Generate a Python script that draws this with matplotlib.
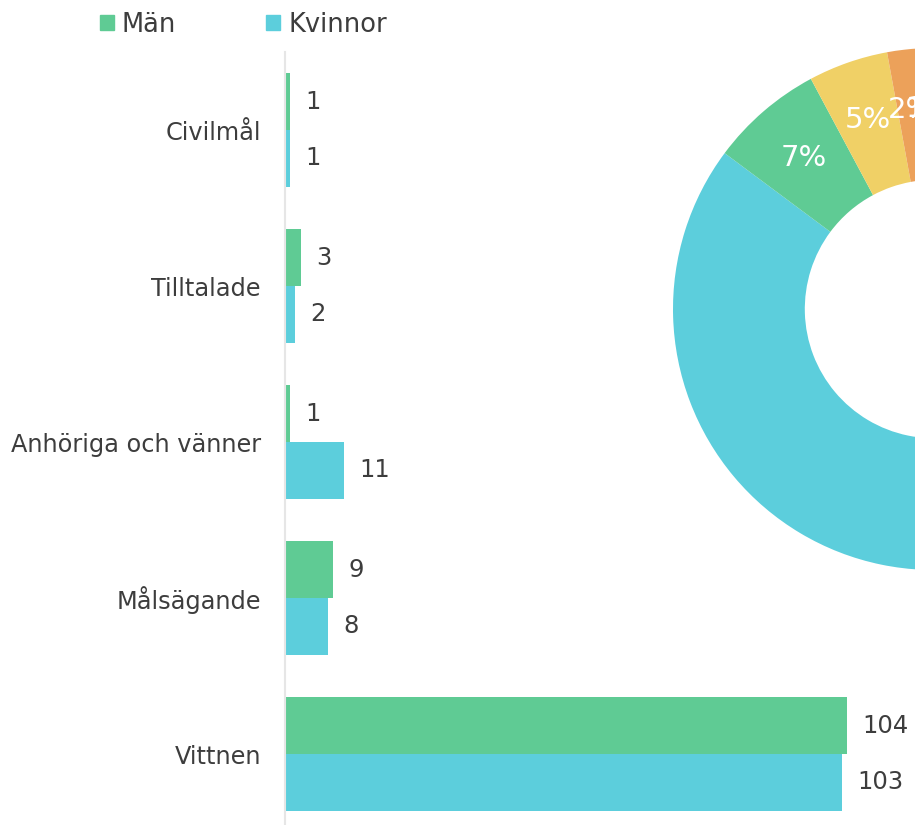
import matplotlib.pyplot as plt
from matplotlib.patches import Patch

# data
kategorier = ["Civilmål", "Tilltalade", "Anhöriga och vänner", "Målsägande", "Vittnen"]
man = [1, 3, 1, 9, 104]
kvinnor = [1, 2, 11, 8, 103]

# donut: totals per category, drawn clockwise from the top
donut_namn = ["Vittnen", "Målsägande", "Anhöriga och vänner", "Tilltalade", "Civilmål"]
donut_varden = [207, 17, 12, 5, 2]

gron = "#5fcb94"
cyan = "#5ccedc"
gul = "#f0d066"
orange = "#eca15a"
rod = "#e5645b"
textfarg = "#3d3d3d"

fig = plt.figure(figsize=(9.15, 8.25), dpi=100)

# bar chart
ax = fig.add_axes([284.5 / 915, -7 / 825, 630.5 / 915, 780 / 825])
pos = list(range(len(kategorier)))
h = 0.3625
b1 = ax.barh([p - h / 2 for p in pos], man, height=h, color=gron, label="Män")
b2 = ax.barh([p + h / 2 for p in pos], kvinnor, height=h, color=cyan, label="Kvinnor")
ax.bar_label(b1, padding=11, fontsize=17.5, color=textfarg)
ax.bar_label(b2, padding=11, fontsize=17.5, color=textfarg)
ax.set_xlim(0, 630.5 / 5.41)
ax.set_ylim(len(kategorier) - 0.5, -0.5)
ax.set_yticks(pos)
ax.set_yticklabels(kategorier, fontsize=17.3, color=textfarg)
ax.tick_params(axis="y", length=0, pad=17)
ax.set_xticks([])
for s in ["top", "right", "bottom"]:
    ax.spines[s].set_visible(False)
ax.spines["left"].set_color("#e6e6e6")
ax.spines["left"].set_linewidth(1.5)
ax.patch.set_alpha(0)

# donut, mostly outside the figure to the right
pax = fig.add_axes([673 / 915, 255 / 825, 522 / 915, 522 / 825])
wedges, texts, autotexts = pax.pie(
    donut_varden,
    colors=[cyan, gron, gul, orange, rod],
    startangle=90,
    counterclock=False,
    radius=1,
    wedgeprops=dict(width=0.505, linewidth=0),
    autopct="%.0f%%",
    pctdistance=0.766,
    textprops=dict(color="white", fontsize=21),
)
pax.set_xlim(-1, 1)
pax.set_ylim(-1, 1)
pax.set_aspect("equal")
pax.axis("off")

# legend
handles = [Patch(color=gron, label="Män"), Patch(color=cyan, label="Kvinnor")]
fig.legend(handles=handles, loc="upper left", bbox_to_anchor=(77 / 915, 1.014),
           ncol=2, frameon=False, fontsize=18.5, handlelength=0.55, handleheight=0.55,
           handletextpad=0.3, columnspacing=3.5, labelcolor=textfarg)

fig.savefig("out.png", dpi=100)
